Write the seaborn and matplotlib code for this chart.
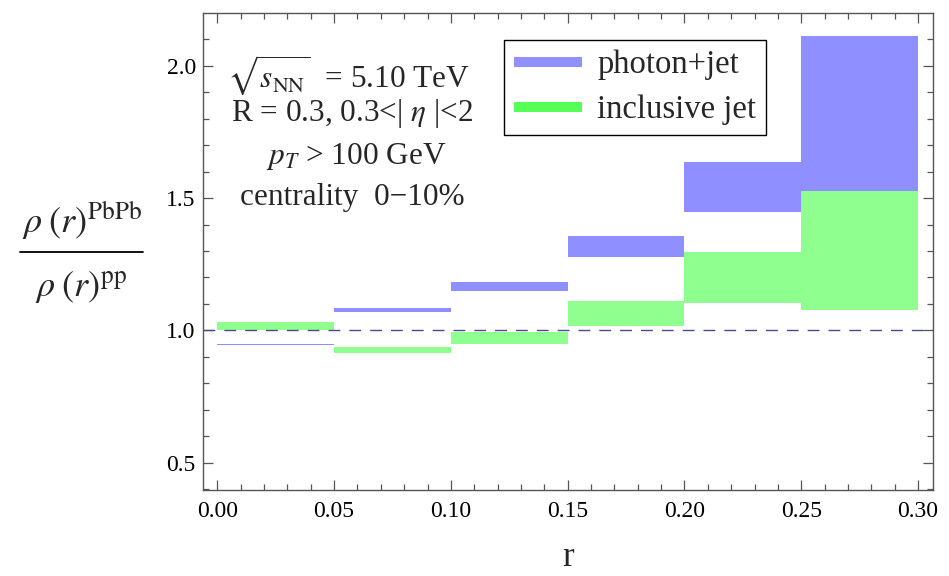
import matplotlib
matplotlib.use("Agg")
import matplotlib.pyplot as plt
from matplotlib.lines import Line2D
from matplotlib.ticker import MultipleLocator, FormatStrFormatter
import seaborn as sns
import numpy as np

# ---- data ----
r_left = [0.00, 0.05, 0.10, 0.15, 0.20, 0.25]
bin_width = 0.05
photon_low = [0.943, 1.070, 1.150, 1.278, 1.448, 1.528]
photon_high = [0.950, 1.083, 1.184, 1.357, 1.637, 2.111]
incl_low = [1.000, 0.913, 0.947, 1.018, 1.105, 1.077]
incl_high = [1.032, 0.938, 0.995, 1.111, 1.297, 1.528]
x_ticks = [0.00, 0.05, 0.10, 0.15, 0.20, 0.25, 0.30]
y_ticks = [0.5, 1.0, 1.5, 2.0]
series_names = ["photon+jet", "inclusive jet"]

sns.set_style("ticks")
plt.rcParams["font.family"] = ["Liberation Serif", "DejaVu Serif"]
plt.rcParams["mathtext.fontset"] = "stix"

W, H = 949, 576
fig = plt.figure(figsize=(9.49, 5.76), dpi=100)
ax = fig.add_axes([0.2136, 0.1493, 0.9828 - 0.2136, 0.9769 - 0.1493])

band_blue = "#8f8fff"
band_green = "#8fff8f"

ax.bar(r_left, np.array(incl_high) - np.array(incl_low), bottom=incl_low,
       width=bin_width, align="edge", color=band_green, linewidth=0, zorder=2)
ax.bar(r_left, np.array(photon_high) - np.array(photon_low), bottom=photon_low,
       width=bin_width, align="edge", color=band_blue, linewidth=0, zorder=2)

ax.axhline(1.0, color="#4a4a8c", lw=1.0, dashes=(8.5, 6.5), zorder=3)

ax.set_xlim(-0.00625, 0.30625)
ax.set_ylim(0.397, 2.198)
ax.set_xticks(x_ticks)
ax.set_yticks(y_ticks)
ax.xaxis.set_major_formatter(FormatStrFormatter("%.2f"))
ax.yaxis.set_major_formatter(FormatStrFormatter("%.1f"))
ax.xaxis.set_minor_locator(MultipleLocator(0.01))
ax.yaxis.set_minor_locator(MultipleLocator(0.1))
ax.tick_params(which="both", direction="in", top=True, right=True,
               color="#555555", width=0.9, labelsize=17, labelcolor="black")
ax.tick_params(which="major", length=7)
ax.tick_params(which="minor", length=4.5)
ax.tick_params(axis="x", pad=8)
ax.tick_params(axis="y", pad=5)
for s in ax.spines.values():
    s.set_color("#555555")
    s.set_linewidth(1.0)

# axis labels
fig.text(568 / W, 1 - 557 / H, "r", fontsize=25, ha="center", va="center")
fig.text(82 / W, 1 - 220 / H, r"$\rho\;(r)^{\mathrm{PbPb}}$",
         fontsize=26, ha="center", va="center")
fig.add_artist(Line2D([20 / W, 143 / W], [1 - 252 / H, 1 - 252 / H],
                      color="black", lw=1.3, transform=fig.transFigure))
fig.text(81 / W, 1 - 288 / H, r"$\rho\;(r)^{\mathrm{pp}}$",
         fontsize=26, ha="center", va="center")

# annotation text
cx = 352 / W
fs = 22.5
fig.text(cx - 4 / W, 1 - 75 / H, r"$\sqrt{s_{\mathrm{NN}}}$  = 5.10 TeV", fontsize=fs,
         ha="center", va="center")
fig.text(cx, 1 - 113 / H, r"R = 0.3, 0.3<| $\eta$ |<2", fontsize=fs,
         ha="center", va="center")
fig.text(cx + 4 / W, 1 - 157 / H, r"$p_T$ > 100 GeV", fontsize=fs,
         ha="center", va="center")
fig.text(cx, 1 - 198 / H, "centrality  0\u221210%", fontsize=fs,
         ha="center", va="center")

# legend
handles = [Line2D([], [], color="#9090ff", lw=7.2, solid_capstyle="butt"),
           Line2D([], [], color="#55ff55", lw=7.2, solid_capstyle="butt")]
leg = ax.legend(handles, series_names, loc="upper left",
                bbox_to_anchor=(504 / W, 1 - 40 / H), bbox_transform=fig.transFigure,
                fontsize=23.5, frameon=True, fancybox=False, shadow=False,
                handlelength=2.1, handletextpad=0.45, borderpad=0.3,
                labelspacing=0.45, borderaxespad=0)
leg.get_frame().set_edgecolor("black")
leg.get_frame().set_linewidth(1.0)
leg.get_frame().set_alpha(1)

fig.savefig("out.png", dpi=100)
